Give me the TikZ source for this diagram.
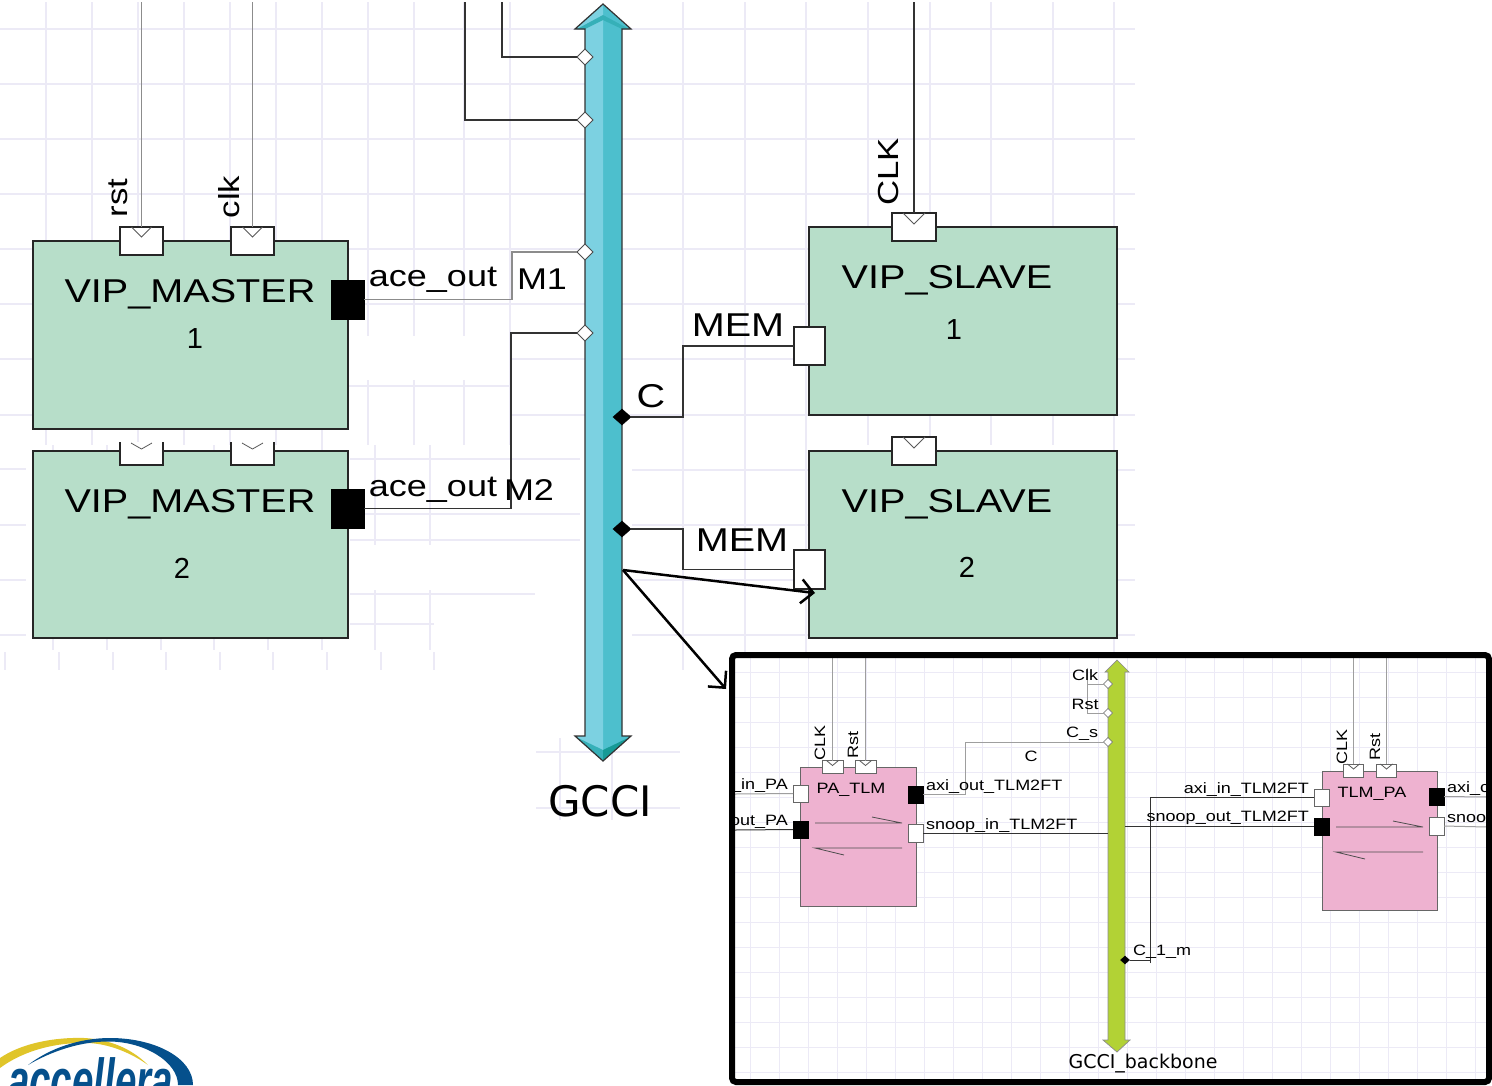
\documentclass[tikz,border=0pt]{standalone}
\usepackage{fontspec}
\usetikzlibrary{shapes.geometric,arrows.meta}
\setmainfont{Liberation Sans}
\newfontfamily\widefont[FakeStretch=1.2]{Liberation Sans}
\newfontfamily\dejafont{DejaVu Sans}
\newfontfamily\logofont[FakeStretch=0.62]{Liberation Sans}
\newcommand\fsz[1]{\fontsize{#1}{#1}\selectfont}
\definecolor{gridc}{HTML}{ECEAF6}
\definecolor{vipgreen}{HTML}{B7DEC9}
\definecolor{pinkb}{HTML}{EEB2D0}
\definecolor{lime}{HTML}{B2D235}
\definecolor{cyanl}{HTML}{7CD1E1}
\definecolor{cyanr}{HTML}{4DBFCD}
\definecolor{tealb}{HTML}{169A96}
\definecolor{teala}{HTML}{36B0B8}
\definecolor{wireg}{HTML}{8C8C8C}
\definecolor{wired}{HTML}{333333}
\definecolor{acblue}{HTML}{05508C}
\definecolor{acgold}{HTML}{E0C52A}
\tikzset{
  gridl/.style={draw=gridc,line width=1.2pt},
  igrid/.style={draw=gridc,line width=0.8pt},
  vipbox/.style={rectangle,draw=black!85,fill=vipgreen,line width=1.5pt,inner sep=0pt,outer sep=0pt},
  tlmbox/.style={rectangle,draw=black!60,fill=pinkb,line width=1pt,inner sep=0pt,outer sep=0pt},
  wport/.style={rectangle,draw=black!85,fill=white,line width=1.3pt,inner sep=0pt,outer sep=0pt},
  wporti/.style={rectangle,draw=black!60,fill=white,line width=0.9pt,inner sep=0pt,outer sep=0pt},
  bport/.style={rectangle,draw=black,fill=black,line width=0.5pt,inner sep=0pt,outer sep=0pt},
  openp/.style={rectangle,fill=white,inner sep=0pt,outer sep=0pt},
  wdia/.style={diamond,draw=black!70,fill=white,line width=1pt,inner sep=0pt,outer sep=0pt,minimum width=16pt,minimum height=16pt},
  bdia/.style={diamond,draw=black,fill=black,inner sep=0pt,outer sep=0pt,minimum width=18pt,minimum height=16pt},
  wdiai/.style={diamond,draw=black!60,fill=white,line width=0.6pt,inner sep=0pt,outer sep=0pt,minimum width=9pt,minimum height=9pt},
  bdiai/.style={diamond,draw=black,fill=black,inner sep=0pt,outer sep=0pt,minimum width=9pt,minimum height=8pt},
  wg/.style={draw=wireg,line width=1.4pt},
  wd/.style={draw=wired,line width=1.4pt},
  wgi/.style={draw=black!38,line width=1pt},
  wdi/.style={draw=wired,line width=1pt},
  chevr/.style={draw=black!65,line width=0.8pt},
  zoomarrow/.style={draw=black,line width=2.5pt,-{Straight Barb[length=12pt,width=24pt,line width=2.5pt]}},
  biglab/.style={inner sep=0pt,font=\widefont\fsz{33}},
  midlab/.style={inner sep=0pt,font=\widefont\fsz{30}},
  rotlab/.style={inner sep=0pt,rotate=90,font=\widefont\fsz{29}},
  numlab/.style={inner sep=0pt,font=\fsz{29}},
  smalllab/.style={inner sep=0pt,font=\widefont\fsz{15}},
}
\newcommand\chevron[3]{\draw[chevr] ([xshift=-#2pt]#1.north) -- ([yshift=-#3pt]#1.north) -- ([xshift=#2pt]#1.north);}
\begin{document}
\begin{tikzpicture}[x=1pt,y=-1pt]
\useasboundingbox (0,0) rectangle (1492,1085);
\fill[white] (0,0) rectangle (1492,1085);
% ---- background grid, upper part
\foreach \y in {29,84,139,194,249,304} {\draw[gridl] (0,\y) -- (1135,\y);}
\foreach \y in {359,415} {\draw[gridl] (0,\y) -- (33,\y); \draw[gridl] (510,\y) -- (1135,\y);}
\draw[gridl] (348,386) -- (510,386);
\foreach \x in {46,92,...,414,464,510} {\draw[gridl] (\x,2) -- (\x,445);}
\foreach \x in {683,745,806,868,930,991,1053,1114} {\draw[gridl] (\x,2) -- (\x,445);}
% ---- background grid, lower part
\foreach \x in {53,107,161,214,268,322,375,430} {\draw[gridl] (\x,445) -- (\x,650);}
\foreach \x in {5,59,113,166,220,273,327,381,434} {\draw[gridl] (\x,652) -- (\x,670);}
\foreach \y in {469,525,580,635} {\draw[gridl] (0,\y) -- (26,\y);}
\foreach \y in {459,514,540} {\draw[gridl] (350,\y) -- (580,\y);}
\draw[gridl] (350,624) -- (434,624);
\draw[gridl] (350,594) -- (535,594);
\foreach \x in {683,745,806,1114} {\draw[gridl] (\x,445) -- (\x,670);}
\foreach \y in {470,525,580,635} {\draw[gridl] (632,\y) -- (1135,\y);}
\draw[gridl] (536,752) -- (680,752);
\draw[gridl] (536,808) -- (680,808);
\draw[gridl] (560,738) -- (560,820);
\draw[gridl] (612,738) -- (612,820);
% blank patches of the grid
\fill[white] (352,336) rectangle (508,380);
\fill[white] (352,545) rectangle (500,590);
% ---- GCCI bus
\fill[cyanr] (603,4) -- (631,29) -- (622,29) -- (622,736) -- (631,736) -- (603,761) -- (575,736) -- (585,736) -- (585,29) -- (575,29) -- cycle;
\fill[cyanl] (603,4) -- (603,761) -- (575,736) -- (585,736) -- (585,29) -- (575,29) -- cycle;
\fill[teala] (577,29) -- (603,15) -- (629,29) -- (622,29) -- (603,20) -- (585,29) -- cycle;
\fill[teala] (576,737) -- (603,750) -- (603,761) -- cycle;
\fill[tealb] (630,737) -- (603,750) -- (603,761) -- cycle;
\draw[black!80,line width=1.2pt,line join=miter] (603,4) -- (631,29) -- (622,29) -- (622,736) -- (631,736) -- (603,761) -- (575,736) -- (585,736) -- (585,29) -- (575,29) -- cycle;
\node[inner sep=0pt,font=\dejafont\fsz{42}] (gcci) at (600,801) {GCCI};
% ---- master and slave blocks
\node[vipbox,minimum width=315pt,minimum height=188pt] (m1) at (190.5,335) {};
\node[vipbox,minimum width=315pt,minimum height=187pt] (m2) at (190.5,544.5) {};
\node[vipbox,minimum width=308pt,minimum height=188pt] (s1) at (963,321) {};
\node[vipbox,minimum width=308pt,minimum height=187pt] (s2) at (963,544.5) {};
\node[biglab] (m1t) at (190,294) {VIP\_MASTER};
\node[numlab] (m1n) at (195,339) {1};
\node[biglab] (m2t) at (190,504) {VIP\_MASTER};
\node[numlab] (m2n) at (182,568) {2};
\node[biglab] (s1t) at (947,280) {VIP\_SLAVE};
\node[numlab] (s1n) at (954,330) {1};
\node[biglab] (s2t) at (947,504) {VIP\_SLAVE};
\node[numlab] (s2n) at (967,567) {2};
% ports
\node[wport,minimum width=43pt,minimum height=28pt] (prst) at (141.5,241) {};
\node[wport,minimum width=43pt,minimum height=28pt] (pclk) at (252.5,241) {};
\node[openp,minimum width=43pt,minimum height=23pt] (prst2) at (141.5,453.5) {};
\node[openp,minimum width=43pt,minimum height=23pt] (pclk2) at (252.5,453.5) {};
\draw[black!85,line width=1.3pt] (prst2.north west) -- (prst2.south west) -- (prst2.south east) -- (prst2.north east);
\draw[black!85,line width=1.3pt] (pclk2.north west) -- (pclk2.south west) -- (pclk2.south east) -- (pclk2.north east);
\node[wport,minimum width=44pt,minimum height=28pt] (pcs1) at (914,227) {};
\node[wport,minimum width=44pt,minimum height=28pt] (pcs2) at (914,451) {};
\node[bport,minimum width=33pt,minimum height=39pt] (pm1) at (347.5,299.5) {};
\node[bport,minimum width=33pt,minimum height=39pt] (pm2) at (347.5,508.5) {};
\node[wport,minimum width=31pt,minimum height=38pt] (pmem1) at (809.5,346) {};
\node[wport,minimum width=31pt,minimum height=39pt] (pmem2) at (809.5,569.5) {};
\chevron{prst}{10}{10}
\chevron{pclk}{10}{10}
\draw[chevr] (131,443) -- (141.5,449) -- (152,443);
\draw[chevr] (242,443) -- (252.5,449) -- (263,443);
\chevron{pcs1}{11}{11}
\chevron{pcs2}{11}{11}
% bus diamonds
\node[wdia] (d1) at (585,57) {};
\node[wdia] (d2) at (585,120) {};
\node[wdia] (d3) at (585,252) {};
\node[wdia] (d4) at (585,333) {};
\node[bdia] (d5) at (622,417) {};
\node[bdia] (d6) at (622,529) {};
% free wire ends and bends
\coordinate (top1) at (502,2);
\coordinate (top2) at (465,2);
\coordinate (toprst) at (141.5,2);
\coordinate (topclk) at (252.5,2);
\coordinate (topcs) at (914,2);
\coordinate (b1) at (512,252);
\coordinate (b2) at (511,333);
\coordinate (b3) at (683,346);
\coordinate (b4) at (683,569.5);
\coordinate (src) at (623,570);
\coordinate (dst1) at (815,593);
\coordinate (dst2) at (726,689);
\draw[wd] (top1) |- (d1.west);
\draw[wd] (top2) |- (d2.west);
\draw[wg] (toprst) -- (prst.north);
\draw[wg] (topclk) -- (pclk.north);
\draw[wd] (topcs) -- (pcs1.north);
\draw[wg] (pm1.east) -| (b1) -- (d3.west);
\draw[wd] (pm2.east) -| (b2) -- (d4.west);
\draw[wd] (d5.east) -| (b3) -- (pmem1.west);
\draw[wd] (d6.east) -| (b4) -- (pmem2.west);
% labels of the upper part
\node[rotlab] (lrst) at (118,198) {rst};
\node[rotlab] (lclk) at (229,197) {clk};
\node[rotlab] (lcs) at (889,172) {CLK};
\node[midlab] (lace1) at (433,280) {ace\_out};
\node[midlab] (lm1) at (542,279) {M1};
\node[midlab] (lace2) at (433,490) {ace\_out};
\node[midlab] (lm2) at (529,490) {M2};
\node[biglab] (lc) at (651,396) {C};
\node[biglab] (lmem1) at (738,325) {MEM};
\node[biglab] (lmem2) at (742,540) {MEM};
% ---- inset
\begin{scope}
\clip (735,658) rectangle (1487,1079);
\fill[white] (732,655) rectangle (1490,1082);
\foreach \x in {750,779,...,1490} {\draw[igrid] (\x,655) -- (\x,1082);}
\foreach \y in {672,697,...,1082} {\draw[igrid] (735,\y) -- (1490,\y);}
\end{scope}
\fill[lime,draw=black!45,line width=0.7pt] (1117,660) -- (1129,672) -- (1125,672) -- (1125,1040) -- (1130,1040) -- (1117,1052) -- (1103,1040) -- (1108,1040) -- (1108,672) -- (1105,672) -- cycle;
\node[tlmbox,minimum width=116pt,minimum height=139pt] (pa) at (858,836.5) {};
\node[tlmbox,minimum width=115pt,minimum height=139pt] (tp) at (1379.5,840.5) {};
\node[inner sep=0pt,font=\widefont\fsz{15}] (pat) at (851,790) {PA\_TLM};
\node[inner sep=0pt,font=\widefont\fsz{15}] (tpt) at (1372,794) {TLM\_PA};
\node[wporti,minimum width=21pt,minimum height=13pt] (pa1) at (832.5,767) {};
\node[wporti,minimum width=21pt,minimum height=13pt] (pa2) at (865.5,767) {};
\node[wporti,minimum width=20pt,minimum height=13pt] (tp1) at (1353.5,770.5) {};
\node[wporti,minimum width=20pt,minimum height=13pt] (tp2) at (1386.5,770.5) {};
\chevron{pa1}{6}{5}
\chevron{pa2}{6}{5}
\chevron{tp1}{6}{5}
\chevron{tp2}{6}{5}
\node[wporti,minimum width=15pt,minimum height=17pt] (pal1) at (800.5,793.5) {};
\node[bport,minimum width=15pt,minimum height=17pt] (pal2) at (800.5,829.5) {};
\node[bport,minimum width=15pt,minimum height=17pt] (par1) at (915.5,794.5) {};
\node[wporti,minimum width=15pt,minimum height=18pt] (par2) at (915.5,833) {};
\node[wporti,minimum width=15pt,minimum height=17pt] (tpl1) at (1321.5,797.5) {};
\node[bport,minimum width=15pt,minimum height=17pt] (tpl2) at (1321.5,826.5) {};
\node[bport,minimum width=15pt,minimum height=17pt] (tpr1) at (1436.5,796.5) {};
\node[wporti,minimum width=15pt,minimum height=18pt] (tpr2) at (1436.5,826) {};
% arrows drawn inside the two blocks
\coordinate (pa3) at (815,823); \coordinate (pa4) at (902,823); \coordinate (pa5) at (872,817);
\coordinate (pa6) at (815,848); \coordinate (pa7) at (902,848); \coordinate (pa8) at (844,855);
\coordinate (tp3) at (1336,827); \coordinate (tp4) at (1423,827); \coordinate (tp5) at (1393,821);
\coordinate (tp6) at (1336,852); \coordinate (tp7) at (1423,852); \coordinate (tp8) at (1365,859);
\draw[black!70,line width=0.8pt] (pa3) -- (pa4) -- (pa5);
\draw[black!70,line width=0.8pt] (pa8) -- (pa6) -- (pa7);
\draw[black!70,line width=0.8pt] (tp3) -- (tp4) -- (tp5);
\draw[black!70,line width=0.8pt] (tp8) -- (tp6) -- (tp7);
% inset bus diamonds
\node[wdiai] (i1) at (1108,684) {};
\node[wdiai] (i2) at (1108,713) {};
\node[wdiai] (i3) at (1108,742) {};
\node[bdiai] (i4) at (1125,960) {};
\coordinate (ivb) at (1087,668);
\coordinate (ib1) at (965,742);
\coordinate (ib2) at (1150,963);
\coordinate (ie1) at (735,794);
\coordinate (ie2) at (735,830);
\coordinate (ie3) at (1487,797);
\coordinate (ie4) at (1487,827);
\coordinate (ibs1) at (1108,833);
\coordinate (ibs2) at (1125,826.5);
\coordinate (it1) at (832.5,658);
\coordinate (it2) at (865.5,658);
\coordinate (it3) at (1353.5,658);
\coordinate (it4) at (1386.5,658);
\draw[wgi] (it1) -- (pa1.north);
\draw[wgi] (it2) -- (pa2.north);
\draw[wgi] (it3) -- (tp1.north);
\draw[wgi] (it4) -- (tp2.north);
\draw[wgi] (ivb) |- (i2.west);
\draw[wgi] (ivb |- i1.west) -- (i1.west);
\draw[wgi] (ie1) -- (pal1.west);
\draw[wdi] (ie2) -- (pal2.west);
\draw[wgi] (par1.east) -| (ib1) -- (i3.west);
\draw[wdi] (par2.east) -- (ibs1);
\draw[wdi] (ib2) |- (tpl1.west);
\draw[wdi] (i4.east) -- (i4 -| ib2);
\draw[wdi] (ibs2) -- (tpl2.west);
\draw[wgi] (tpr1.east) -- (ie3);
\draw[wgi] (tpr2.east) -- (ie4);
% inset labels
\node[smalllab,rotate=90] (a1) at (820,743) {CLK};
\node[smalllab,rotate=90] (a2) at (853,745) {Rst};
\node[smalllab,rotate=90] (a3) at (1342,747) {CLK};
\node[smalllab,rotate=90] (a4) at (1375,747) {Rst};
\node[smalllab,anchor=east] (a5) at (788,785.5) {\_in\_PA};
\node[smalllab,anchor=east] (a6) at (788,821.5) {out\_PA};
\node[smalllab,anchor=west] (a7) at (926,786.5) {axi\_out\_TLM2FT};
\node[smalllab,anchor=west] (a8) at (926,825.5) {snoop\_in\_TLM2FT};
\node[smalllab,anchor=east] (a9) at (1309,789.5) {axi\_in\_TLM2FT};
\node[smalllab,anchor=east] (a10) at (1309,817.5) {snoop\_out\_TLM2FT};
\node[smalllab,anchor=west] (a11) at (1447,788.5) {axi\_c};
\node[smalllab,anchor=west] (a12) at (1447,818.5) {snoo};
\node[smalllab] (a13) at (1085,675) {Clk};
\node[smalllab] (a14) at (1085,704) {Rst};
\node[smalllab] (a15) at (1082,733.5) {C\_s};
\node[smalllab] (a16) at (1031,756) {C};
\node[smalllab,anchor=west] (a17) at (1133,951.5) {C\_1\_m};
\node[inner sep=0pt,font=\dejafont\fsz{19}] (a18) at (1143,1064) {GCCI\_backbone};
% inset frame
\draw[black,line width=6pt,rounded corners=4pt] (732,655) rectangle (1489,1082);
% zoom arrows
\draw[zoomarrow] (src) -- (dst1);
\draw[zoomarrow] (src) -- (dst2);
% ---- logo
\begin{scope}
\clip (0,1030) rectangle (300,1085);
\fill[acgold] (0,1058) .. controls (22,1043) and (55,1037) .. (85,1038) .. controls (115,1040) and (135,1052) .. (148,1065) .. controls (130,1052) and (105,1042) .. (82,1043) .. controls (50,1043) and (20,1053) .. (0,1068) -- cycle;
\fill[acblue] (28,1065) .. controls (50,1048) and (80,1038) .. (110,1038) .. controls (155,1038) and (193,1058) .. (193,1085) -- (178,1085) .. controls (178,1062) and (145,1042) .. (110,1041.5) .. controls (80,1041) and (50,1052) .. (28,1065) -- cycle;
\node[inner sep=0pt,anchor=base west,font=\logofont\bfseries\itshape\fsz{62}] (logo) at (8,1102) {\textcolor{acblue}{accellera}};
\end{scope}
\end{tikzpicture}
\end{document}
